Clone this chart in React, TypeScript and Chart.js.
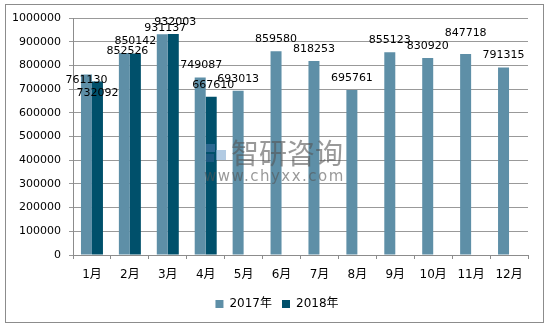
import React, { useEffect, useRef } from "react";
import { Chart, registerables } from "chart.js";

Chart.register(...registerables);

const months = ["1月", "2月", "3月", "4月", "5月", "6月", "7月", "8月", "9月", "10月", "11月", "12月"];
const values2017 = [761130, 852526, 931137, 749087, 693013, 859580, 818253, 695761, 855123, 830920, 847718, 791315];
const values2018: (number | null)[] = [732092, 850142, 932003, 667610, null, null, null, null, null, null, null, null];
const seriesNames = ["2017年", "2018年"];
const yTicks = [0, 100000, 200000, 300000, 400000, 500000, 600000, 700000, 800000, 900000, 1000000];

const colors = ["#5E8FA7", "#00506B"];

// label placement nudges (dataset index, category index) -> [dx, dy], mimicking the original's collision layout
const labelNudges: Record<string, [number, number]> = {
  "0-0": [0, 18],
  "1-0": [0, 24],
  "0-1": [3, 10],
  "0-2": [3, 6],
  "1-2": [2, 0],
  "0-3": [1, 0],
  "1-3": [2, 0],
  "0-10": [0, -9],
};

const decorPlugin = {
  id: "decor",
  afterLayout(chart: any) {
    if (chart.legend) {
      chart.legend.left += 9;
      chart.legend.right += 9;
    }
  },
  beforeDraw(chart: any) {
    const ctx = chart.ctx;
    ctx.save();
    ctx.fillStyle = "#ffffff";
    ctx.fillRect(0, 0, chart.width, chart.height);
    ctx.strokeStyle = "#8c8c8c";
    ctx.lineWidth = 1;
    ctx.strokeRect(5.5, 4.5, 538, 318);
    ctx.restore();
  },
  afterDatasetsDraw(chart: any) {
    const ctx = chart.ctx;
    ctx.save();
    // data labels
    ctx.font = "11px 'DejaVu Sans'";
    ctx.fillStyle = "#000";
    ctx.textAlign = "center";
    ctx.textBaseline = "middle";
    chart.data.datasets.forEach((ds: any, i: number) => {
      const meta = chart.getDatasetMeta(i);
      meta.data.forEach((bar: any, j: number) => {
        const v = ds.data[j];
        if (v == null) return;
        const n = labelNudges[i + "-" + j] || [0, 0];
        ctx.fillText(String(v), bar.x + n[0], bar.y - 12 + n[1]);
      });
    });
    // watermark
    ctx.globalAlpha = 0.6;
    ctx.fillStyle = "#4a78a8";
    ctx.fillRect(206, 144, 9, 8);
    ctx.fillStyle = "#7fa8d0";
    ctx.fillRect(216, 150, 10, 10);
    ctx.fillStyle = "#2f5f90";
    ctx.fillRect(206, 154, 8, 8);
    ctx.fillStyle = "#555";
    ctx.textAlign = "left";
    ctx.font = "28px 'Noto Sans CJK SC'";
    ctx.fillText("智研咨询", 231, 153);
    ctx.font = "15px 'DejaVu Sans'";
    (ctx as any).letterSpacing = "1.5px";
    ctx.fillText("www.chyxx.com", 204, 177);
    ctx.restore();
  },
};

export default function App() {
  const ref = useRef<HTMLCanvasElement>(null);
  useEffect(() => {
    if (!ref.current) return;
    const chart = new Chart(ref.current, {
      type: "bar",
      data: {
        labels: months,
        datasets: [
          { label: seriesNames[0], data: values2017, backgroundColor: colors[0] },
          { label: seriesNames[1], data: values2018, backgroundColor: colors[1] },
        ],
      },
      options: {
        animation: false,
        responsive: false,
        devicePixelRatio: 1,
        layout: { padding: { left: 8, right: 22, top: 18, bottom: 8 } },
        datasets: { bar: { categoryPercentage: 0.58, barPercentage: 1 } },
        plugins: {
          legend: {
            position: "bottom",
            labels: {
              boxWidth: 8,
              boxHeight: 8,
              color: "#000",
              font: { size: 12, family: "'DejaVu Sans', 'Noto Sans CJK SC'" },
              padding: 10,
            },
          },
          tooltip: { enabled: false },
        },
        scales: {
          x: {
            grid: { drawOnChartArea: false, drawTicks: true, tickLength: 4, color: "#8c8c8c", offset: true },
            border: { color: "#8c8c8c" },
            ticks: { color: "#000", padding: 9, font: { size: 12, family: "'DejaVu Sans', 'Noto Sans CJK SC'" } },
            afterFit(scale: any) { scale.height = 33; },
          },
          y: {
            min: 0,
            max: 1000000,
            afterBuildTicks(scale: any) { scale.ticks = yTicks.map((v) => ({ value: v })); },
            grid: { color: "#999", tickLength: 4 },
            border: { color: "#8c8c8c" },
            ticks: {
              color: "#000",
              padding: 8,
              font: { size: 11, family: "'DejaVu Sans'" },
              callback: (v: any) => String(v),
            },
            afterFit(scale: any) { scale.width = 65; },
          },
        },
      } as any,
      plugins: [decorPlugin],
    });
    return () => chart.destroy();
  }, []);
  return (
    <div style={{ position: "fixed", left: 0, top: 0, width: 550, height: 328 }}>
      <canvas ref={ref} width={550} height={328} style={{ display: "block" }} />
    </div>
  );
}
